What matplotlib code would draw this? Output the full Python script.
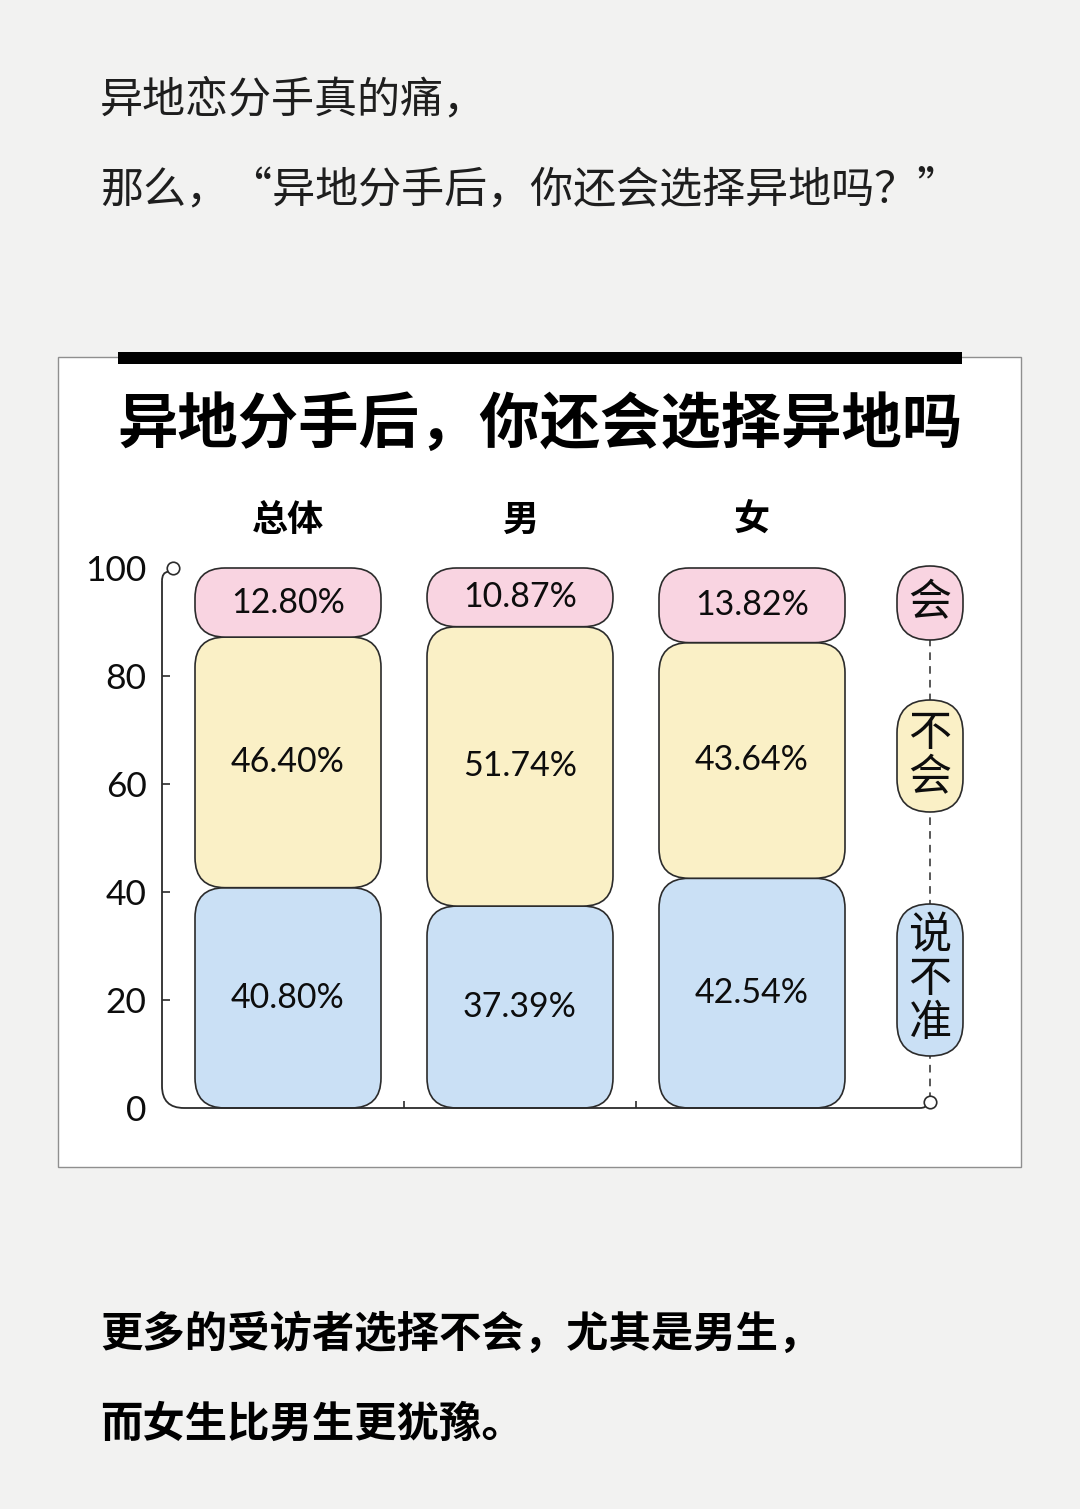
#!/usr/bin/env python3
# 异地分手后，你还会选择异地吗 - stacked rounded bars

import matplotlib
matplotlib.use('Agg')
import matplotlib.pyplot as plt
from matplotlib.patches import FancyBboxPatch, Rectangle, PathPatch
from matplotlib.path import Path

plt.rcParams['font.family'] = ['Noto Sans CJK SC', 'DejaVu Sans']

# data
categories = ['总体', '男', '女']
hui = [12.80, 10.87, 13.82]          # 会
buhui = [46.40, 51.74, 43.64]        # 不会
shuobuzhun = [40.80, 37.39, 42.54]   # 说不准
series_names = ['说不准', '不会', '会']
yticks = [0, 20, 40, 60, 80, 100]

colors = {'会': '#f9d4e1', '不会': '#faf0c6', '说不准': '#cae0f5'}
line_c = '#2b2b2b'

W, H = 1080, 1509
fig = plt.figure(figsize=(W / 100, H / 100), dpi=100)
fig.patch.set_facecolor('#f2f2f1')

def fx(px):
    return px / W

def fy(py):
    return 1 - py / H

# card + black bar on top
fig.patches.append(Rectangle((fx(58), fy(1167)), (1021 - 58) / W, (1167 - 357) / H,
                             transform=fig.transFigure, fc='white', ec='#8f8f8f', lw=1.0,
                             zorder=-2))
fig.patches.append(Rectangle((fx(118), fy(364)), (962 - 118) / W, 12 / H,
                             transform=fig.transFigure, fc='black', ec='none', zorder=-1))

# intro / outro text
fig.text(fx(100), fy(100), '异地恋分手真的痛，', fontsize=31, weight='light',
         color='#1e1e1e', va='center')
fig.text(fx(100), fy(190), '那么，“异地分手后，你还会选择异地吗？”', fontsize=31,
         weight='light', color='#1e1e1e', va='center')
fig.text(fx(540), fy(425), '异地分手后，你还会选择异地吗', fontsize=43.5, weight='heavy',
         ha='center', va='center', color='black')
fig.text(fx(100), fy(1335), '更多的受访者选择不会，尤其是男生，', fontsize=30.5,
         weight='bold', color='black', va='center')
fig.text(fx(100), fy(1425), '而女生比男生更犹豫。', fontsize=30.5,
         weight='bold', color='black', va='center')

# chart axes: pixel box 162..930 x 568..1108
L, R, T, B = 162, 930, 568, 1108
ax = fig.add_axes([fx(L), fy(B), (R - L) / W, (B - T) / H])
ax.set_zorder(5)
x0, x1 = (L - 288) / 232, (R - 288) / 232
ax.set_xlim(x0, x1)
ax.set_ylim(0, 100)
ax.patch.set_alpha(0)
for s in ax.spines.values():
    s.set_visible(False)

sx = (R - L) / (x1 - x0)   # px per x unit
sy = (B - T) / 100.0       # px per y unit
aspect = sx / sy

def rbox(xc, y, w_px, h, r_px, fc, z=2):
    w = w_px / sx
    r = min(r_px, w_px / 2, h * sy / 2) / sx
    p = FancyBboxPatch((xc - w / 2, y), w, h,
                       boxstyle=f'round,pad=0,rounding_size={r}',
                       mutation_aspect=aspect, fc=fc, ec=line_c, lw=1.2,
                       zorder=z, clip_on=False)
    ax.add_patch(p)
    return p

xs = list(range(len(categories)))
bar_w = 186
stack = [shuobuzhun, buhui, hui]
for i, xc in enumerate(xs):
    bottom = 0
    for name, vals in zip(series_names, stack):
        v = vals[i]
        rbox(xc, bottom, bar_w, v, 30, colors[name], z=2)
        ax.text(xc, bottom + v / 2, f'{v:.2f}%', ha='center', va='center',
                fontsize=24.5, family=['Lato', 'DejaVu Sans'], color='#0d0d0d', zorder=5)
        bottom += v
    ax.text(xc, (B - 520) / sy, categories[i], ha='center', va='center',
            fontsize=26, weight='bold', color='black', clip_on=False)

# y axis with rounded corner and hooks
r = 22
verts = [(x0, 97.6), (x0, r / sy), (x0, 0), (x0 + r / sx, 0), (x1 - 10 / sx, 0),
         (x1 - 4 / sx, 0), (x1 - 3 / sx, 0.7)]
codes = [Path.MOVETO, Path.LINETO, Path.CURVE3, Path.CURVE3, Path.LINETO,
         Path.CURVE3, Path.CURVE3]
ax.add_patch(PathPatch(Path(verts, codes), fc='none', ec=line_c, lw=1.3, clip_on=False, zorder=3))
hook = [(x0, 97.6), (x0, 99.2), (x0 + 6 / sx, 99.3)]
ax.add_patch(PathPatch(Path(hook, [Path.MOVETO, Path.CURVE3, Path.CURVE3]),
                       fc='none', ec=line_c, lw=1.3, clip_on=False, zorder=3))
ax.plot([x0 + 11 / sx], [100], marker='o', ms=9, mfc='white', mec=line_c, mew=1.2,
        clip_on=False, zorder=4)
ax.plot([x1], [1.1], marker='o', ms=9, mfc='white', mec=line_c, mew=1.2,
        clip_on=False, zorder=6)

# small x ticks between bars
ax.vlines([0.5, 1.5], 0, 7 / sy, color=line_c, lw=1.2)

ax.set_xticks([])
ax.set_yticks(yticks)
ax.set_yticklabels([str(t) for t in yticks], family=['Lato', 'DejaVu Sans'],
                   fontsize=25.5, color='#0d0d0d')
ax.tick_params(axis='y', direction='in', length=6, width=1.2, color=line_c, pad=11)
ticks = ax.yaxis.get_major_ticks()
ticks[0].tick1line.set_visible(False)
ticks[-1].tick1line.set_visible(False)

# legend pills on the right, connected with a dashed line
ax.plot([x1, x1], [1.5, 90], ls=(0, (5, 4)), color=line_c, lw=1.1,
        clip_on=False, zorder=1)
leg_y = [(B - 980) / sy, (B - 756) / sy, (B - 603) / sy]
leg_h = [152, 112, 74]
for name, yc, h in zip(series_names, leg_y, leg_h):
    hh = h / sy
    rbox(x1, yc - hh / 2, 66, hh, 33, colors[name], z=6)
    ax.text(x1, yc, '\n'.join(name), ha='center', va='center', fontsize=31,
            linespacing=1.0, color='#0d0d0d', zorder=7, clip_on=False)

fig.savefig('out.png', dpi=100, facecolor=fig.get_facecolor())
